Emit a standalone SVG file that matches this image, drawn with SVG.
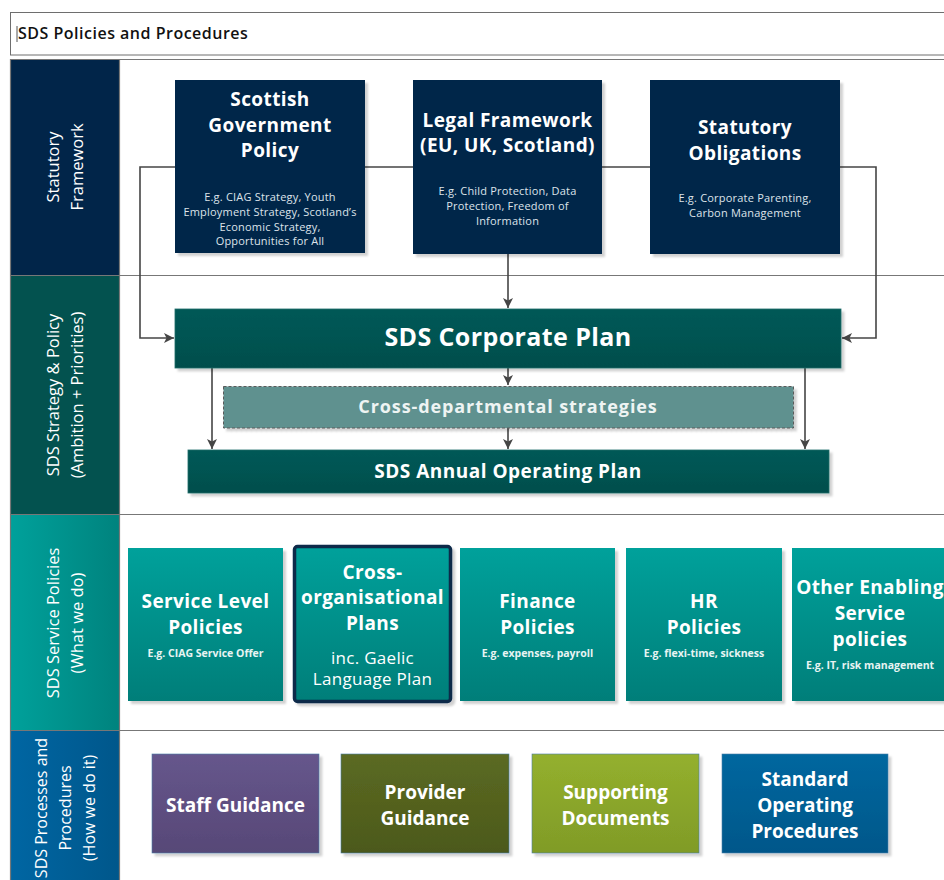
<svg xmlns="http://www.w3.org/2000/svg" width="944" height="880" viewBox="0 0 944 880">
<defs>
<linearGradient id="gTitle" x1="0" y1="0" x2="0" y2="1"><stop offset="0" stop-color="#ffffff"/><stop offset="1" stop-color="#e9e9e9"/></linearGradient>
<linearGradient id="gTeal" x1="0" y1="0" x2="0" y2="1"><stop offset="0" stop-color="#00a19b"/><stop offset="1" stop-color="#007e79"/></linearGradient>
<linearGradient id="gDark" x1="0" y1="0" x2="0" y2="1"><stop offset="0" stop-color="#005957"/><stop offset="1" stop-color="#004e4c"/></linearGradient>
<linearGradient id="gLane3" x1="0" y1="0" x2="1" y2="0"><stop offset="0" stop-color="#00a19b"/><stop offset="1" stop-color="#00837e"/></linearGradient>
<linearGradient id="gLane4" x1="0" y1="0" x2="1" y2="0"><stop offset="0" stop-color="#0066a3"/><stop offset="1" stop-color="#00578b"/></linearGradient>
<linearGradient id="gPurple" x1="0" y1="0" x2="0" y2="1"><stop offset="0" stop-color="#66568c"/><stop offset="1" stop-color="#574877"/></linearGradient>
<linearGradient id="gOlive" x1="0" y1="0" x2="0" y2="1"><stop offset="0" stop-color="#5b6a22"/><stop offset="1" stop-color="#4c591b"/></linearGradient>
<linearGradient id="gGreen" x1="0" y1="0" x2="0" y2="1"><stop offset="0" stop-color="#94b02e"/><stop offset="1" stop-color="#809b27"/></linearGradient>
<linearGradient id="gBlue" x1="0" y1="0" x2="0" y2="1"><stop offset="0" stop-color="#00679f"/><stop offset="1" stop-color="#00578a"/></linearGradient>
<filter id="sh" x="-10%" y="-10%" width="130%" height="130%"><feDropShadow dx="3" dy="3" stdDeviation="1" flood-color="#000" flood-opacity="0.18"/></filter>
<marker id="ah" viewBox="0 0 10 10" refX="10" refY="5" markerWidth="10" markerHeight="10" markerUnits="userSpaceOnUse" orient="auto"><path d="M0,0 L10,5 L0,10 L2.5,5 Z" fill="#454545"/></marker>
<style>
.frame{stroke:#6e6e6e;stroke-width:1;fill:none}
.sep{stroke:#777;stroke-width:1.2}
.lane{font-family:"Open Sans","Liberation Sans",sans-serif;font-size:16.5px;fill:#ffffff;text-anchor:middle}
.lane4{font-family:"Open Sans","Liberation Sans",sans-serif;font-size:16px;fill:#ffffff;text-anchor:middle}
.t{font-family:"Open Sans","Liberation Sans",sans-serif;font-weight:bold;font-size:19px;fill:#ffffff;text-anchor:middle;letter-spacing:0.4px}
.s{font-family:"Open Sans","Liberation Sans",sans-serif;font-size:11px;fill:#dde3ea;text-anchor:middle;letter-spacing:0.2px}
.sb{font-family:"Open Sans","Liberation Sans",sans-serif;font-weight:bold;font-size:10.5px;fill:#e8f4f3;text-anchor:middle}
.r{font-family:"Open Sans","Liberation Sans",sans-serif;font-size:17px;fill:#ffffff;text-anchor:middle;letter-spacing:0.3px}
.navy{fill:#022548}
.conn{stroke:#454545;stroke-width:1.6;fill:none}
</style>
</defs>
<rect width="944" height="880" fill="#ffffff"/>
<g id="title">
<rect x="10.5" y="12.5" width="940" height="42.5" fill="url(#gTitle)" class="frame"/>
<line x1="17" y1="26" x2="17" y2="42" stroke="#555" stroke-width="1"/>
<text x="18" y="39" font-family="Open Sans, Liberation Sans, sans-serif" font-size="16" font-weight="600" letter-spacing="0.5" fill="#111">SDS Policies and Procedures</text>
</g>
<g id="lanes">
<rect x="10" y="59" width="109" height="216" fill="#012549"/>
<rect x="10" y="275" width="109" height="239" fill="#03524f"/>
<rect x="10" y="514" width="109" height="216" fill="url(#gLane3)"/>
<rect x="10" y="730" width="109" height="150" fill="url(#gLane4)"/>
<line x1="10" y1="59.5" x2="944" y2="59.5" class="sep"/>
<line x1="10.5" y1="59" x2="10.5" y2="880" class="sep"/>
<line x1="119.5" y1="59" x2="119.5" y2="880" class="sep"/>
<line x1="10" y1="275.5" x2="944" y2="275.5" class="sep"/>
<line x1="10" y1="514.5" x2="944" y2="514.5" class="sep"/>
<line x1="10" y1="730.5" x2="944" y2="730.5" class="sep"/>
<text class="lane" transform="translate(59,167) rotate(-90)">Statutory</text>
<text class="lane" transform="translate(83,167) rotate(-90)">Framework</text>
<text class="lane" transform="translate(59,395) rotate(-90)">SDS Strategy &amp; Policy</text>
<text class="lane" transform="translate(83,395) rotate(-90)">(Ambition + Priorities)</text>
<text class="lane" transform="translate(59,623) rotate(-90)">SDS Service Policies</text>
<text class="lane" transform="translate(83,623) rotate(-90)">(What we do)</text>
<text class="lane4" transform="translate(47,808) rotate(-90)">SDS Processes and</text>
<text class="lane4" transform="translate(71,808) rotate(-90)">Procedures</text>
<text class="lane4" transform="translate(95,808) rotate(-90)">(How we do it)</text>
</g>
<g id="connectors">
<path class="conn" d="M175,167 H140 V338 H174" marker-end="url(#ah)"/>
<path class="conn" d="M365,167 H413"/>
<path class="conn" d="M602,167 H650"/>
<path class="conn" d="M840,167 H876 V338 H842" marker-end="url(#ah)"/>
<path class="conn" d="M508,254 V308" marker-end="url(#ah)"/>
<path class="conn" d="M212,368 V449" marker-end="url(#ah)"/>
<path class="conn" d="M508,368 V385" marker-end="url(#ah)"/>
<path class="conn" d="M508,428 V449" marker-end="url(#ah)"/>
<path class="conn" d="M805,368 V449" marker-end="url(#ah)"/>
</g>
<g id="sgp">
<rect x="175" y="80" width="190" height="173" class="navy" filter="url(#sh)"/>
<text class="t" x="270" y="106">Scottish</text>
<text class="t" x="270" y="132">Government</text>
<text class="t" x="270" y="157">Policy</text>
<text class="s" x="270" y="201">E.g. CIAG Strategy, Youth</text>
<text class="s" x="270" y="216">Employment Strategy, Scotland’s</text>
<text class="s" x="270" y="231">Economic Strategy,</text>
<text class="s" x="270" y="245">Opportunities for All</text>
</g>
<g id="legal">
<rect x="413" y="80" width="189" height="174" class="navy" filter="url(#sh)"/>
<text class="t" x="507.5" y="127">Legal Framework</text>
<text class="t" x="507.5" y="152">(EU, UK, Scotland)</text>
<text class="s" x="507.5" y="195">E.g. Child Protection, Data</text>
<text class="s" x="507.5" y="210">Protection, Freedom of</text>
<text class="s" x="507.5" y="225">Information</text>
</g>
<g id="statutory">
<rect x="650" y="80" width="190" height="174" class="navy" filter="url(#sh)"/>
<text class="t" x="745" y="134">Statutory</text>
<text class="t" x="745" y="160">Obligations</text>
<text class="s" x="745" y="202">E.g. Corporate Parenting,</text>
<text class="s" x="745" y="217">Carbon Management</text>
</g>
<g id="corporate">
<rect x="175" y="309" width="666" height="59" fill="url(#gDark)" stroke="#1d6b68" stroke-width="0.8" filter="url(#sh)"/>
<text class="t" x="508" y="346" style="font-size:25px;letter-spacing:0.4px">SDS Corporate Plan</text>
</g>
<g id="crossdept">
<rect x="223.5" y="386.5" width="570" height="41.5" fill="#5e918f" stroke="#5a5a5a" stroke-width="1" stroke-dasharray="3 2" filter="url(#sh)"/>
<text class="t" x="508" y="413" style="font-size:18px;letter-spacing:0.9px;fill:#eef4f3">Cross-departmental strategies</text>
</g>
<g id="annual">
<rect x="188" y="450" width="641" height="43" fill="url(#gDark)" stroke="#1d6b68" stroke-width="0.8" filter="url(#sh)"/>
<text class="t" x="508" y="478" style="letter-spacing:0.5px">SDS Annual Operating Plan</text>
</g>
<g id="service-level">
<rect x="128" y="548" width="155" height="153" fill="url(#gTeal)" filter="url(#sh)"/>
<text class="t" x="205.5" y="608">Service Level</text>
<text class="t" x="205.5" y="634">Policies</text>
<text class="sb" x="205.5" y="657">E.g. CIAG Service Offer</text>
</g>
<g id="cross-org">
<rect x="294.5" y="546.5" width="156" height="155" rx="3" fill="url(#gTeal)" stroke="#0e2a4a" stroke-width="3.5" filter="url(#sh)"/>
<text class="t" x="372.5" y="579">Cross-</text>
<text class="t" x="372.5" y="604">organisational</text>
<text class="t" x="372.5" y="630">Plans</text>
<text class="r" x="372.5" y="664">inc. Gaelic</text>
<text class="r" x="372.5" y="685">Language Plan</text>
</g>
<g id="finance">
<rect x="460" y="548" width="155" height="153" fill="url(#gTeal)" filter="url(#sh)"/>
<text class="t" x="537.5" y="608">Finance</text>
<text class="t" x="537.5" y="634">Policies</text>
<text class="sb" x="537.5" y="657">E.g. expenses, payroll</text>
</g>
<g id="hr">
<rect x="626" y="548" width="156" height="153" fill="url(#gTeal)" filter="url(#sh)"/>
<text class="t" x="704" y="608">HR</text>
<text class="t" x="704" y="634">Policies</text>
<text class="sb" x="704" y="657">E.g.  flexi-time, sickness</text>
</g>
<g id="other">
<rect x="792" y="548" width="158" height="153" fill="url(#gTeal)" filter="url(#sh)"/>
<text class="t" x="870" y="594">Other Enabling</text>
<text class="t" x="870" y="620">Service</text>
<text class="t" x="870" y="646">policies</text>
<text class="sb" x="870" y="669">E.g. IT, risk management</text>
</g>
<g id="staff">
<rect x="152" y="754" width="167" height="99" fill="url(#gPurple)" stroke="#4a7fa8" stroke-width="0.6" filter="url(#sh)"/>
<text class="t" x="235.5" y="812" style="letter-spacing:0px">Staff Guidance</text>
</g>
<g id="provider">
<rect x="341" y="754" width="168" height="99" fill="url(#gOlive)" stroke="#4a7fa8" stroke-width="0.6" filter="url(#sh)"/>
<text class="t" x="425" y="799" style="letter-spacing:0px">Provider</text>
<text class="t" x="425" y="825" style="letter-spacing:0px">Guidance</text>
</g>
<g id="supporting">
<rect x="532" y="754" width="167" height="99" fill="url(#gGreen)" stroke="#4a7fa8" stroke-width="0.6" filter="url(#sh)"/>
<text class="t" x="615.5" y="799" style="letter-spacing:0px">Supporting</text>
<text class="t" x="615.5" y="825" style="letter-spacing:0px">Documents</text>
</g>
<g id="sop">
<rect x="722" y="754" width="166" height="99" fill="url(#gBlue)" stroke="#4a7fa8" stroke-width="0.6" filter="url(#sh)"/>
<text class="t" x="805" y="786" style="letter-spacing:0px">Standard</text>
<text class="t" x="805" y="812" style="letter-spacing:0px">Operating</text>
<text class="t" x="805" y="838" style="letter-spacing:0px">Procedures</text>
</g>
</svg>
